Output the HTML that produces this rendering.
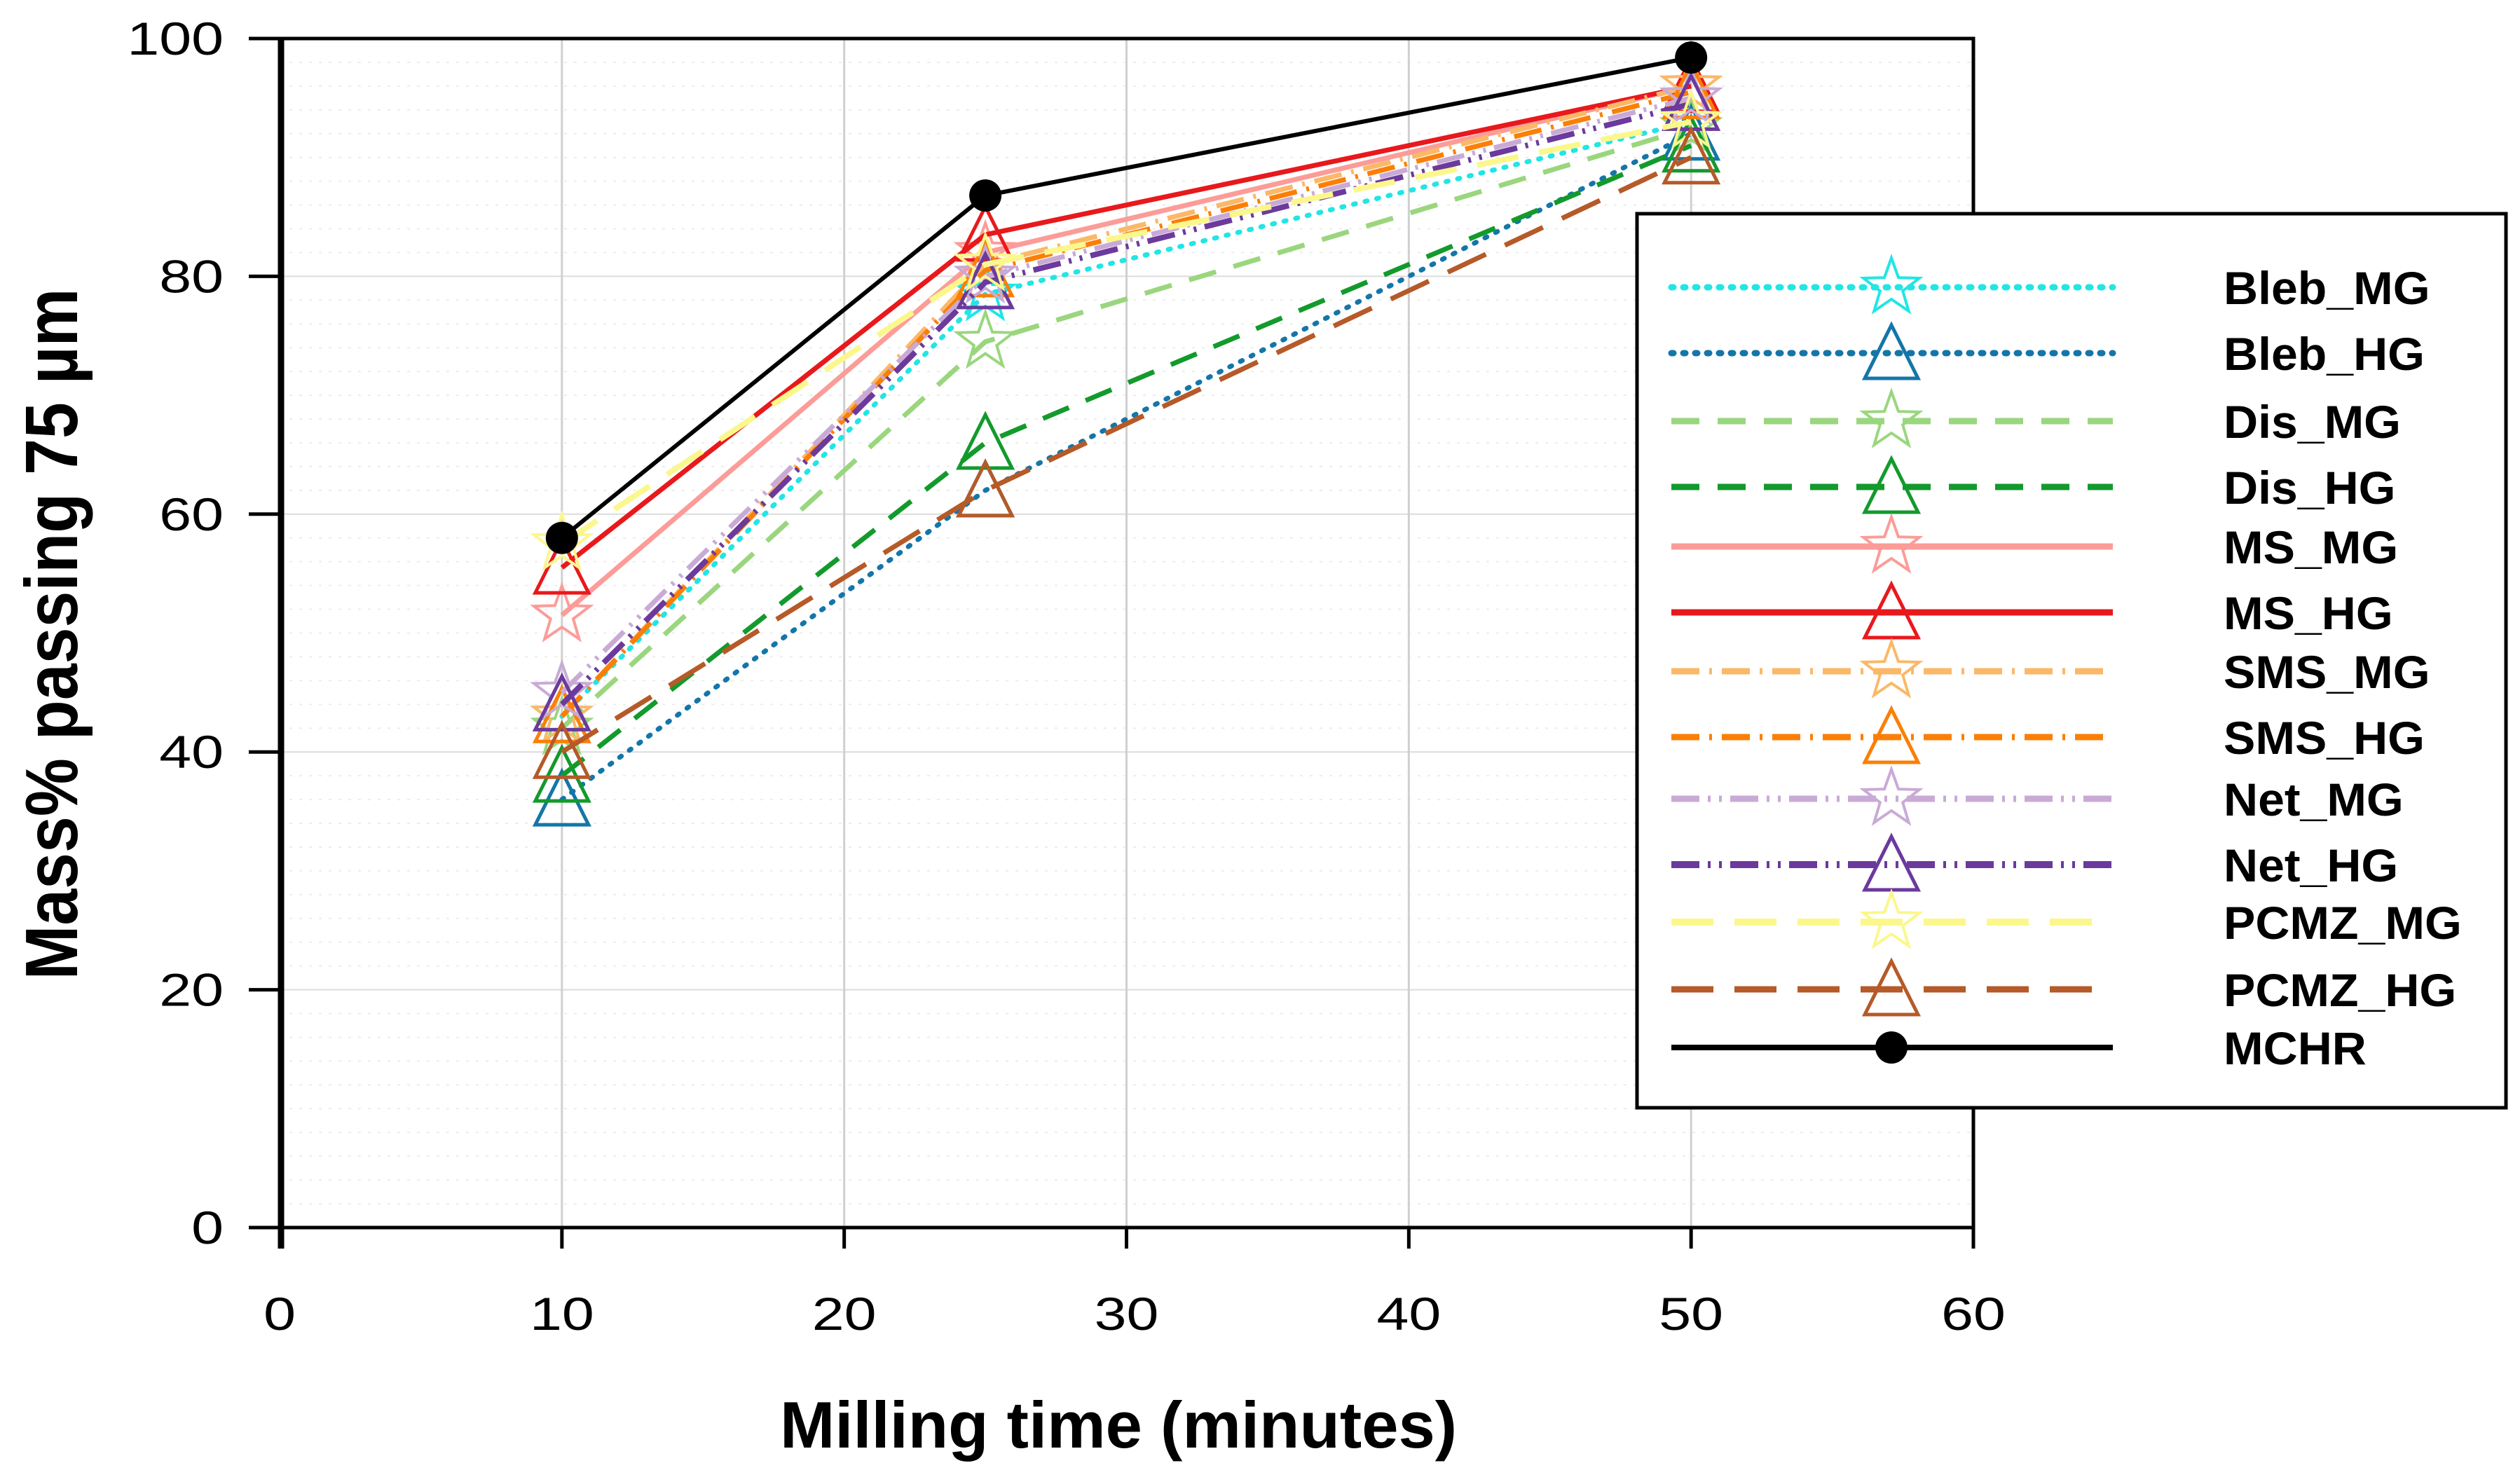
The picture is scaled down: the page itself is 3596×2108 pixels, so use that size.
<!DOCTYPE html>
<html><head><meta charset="utf-8"><style>
html,body{margin:0;padding:0;background:#fff;}
svg{display:block;}
text{font-family:"Liberation Sans",sans-serif;}
</style></head><body>
<svg id="chart" width="3596" height="2108" viewBox="0 0 3596 2108" xmlns="http://www.w3.org/2000/svg">
<g id="grid"></g>
<g id="series"></g>
<g id="axes"></g>
<g id="legend"></g>
</svg>
<script>
const xCats = [10, 25, 50];
const xTicks = [0, 10, 20, 30, 40, 50, 60];
const yTicks = [0, 20, 40, 60, 80, 100];
const seriesNames = ["Bleb_MG","Bleb_HG","Dis_MG","Dis_HG","MS_MG","MS_HG","SMS_MG","SMS_HG","Net_MG","Net_HG","PCMZ_MG","PCMZ_HG","MCHR"];
const blebMG = [43, 78.5, 93];
const blebHG = [36, 62, 92];
const disMG = [42, 74.5, 92.5];
const disHG = [38, 66, 91];
const msMG = [51.5, 82, 96];
const msHG = [55.5, 83.5, 96];
const smsMG = [43, 81, 96];
const smsHG = [43, 80.5, 95.5];
const netMG = [45, 80, 95];
const netHG = [44, 79.5, 94.5];
const pcmzMG = [57.5, 81, 93];
const pcmzHG = [40, 62, 90];
const mchr = [58, 86.8, 98.4];

const seriesVals = [blebMG,blebHG,disMG,disHG,msMG,msHG,smsMG,smsHG,netMG,netHG,pcmzMG,pcmzHG,mchr];
const styles = [
 {c:"#22e5e5",d:"3 14",w:7,m:"star"},
 {c:"#1476a8",d:"3 14",w:7,m:"tri"},
 {c:"#9ad67e",d:"40 26",w:7,m:"star"},
 {c:"#139a2c",d:"40 26",w:7,m:"tri"},
 {c:"#fc9c98",d:"",w:7,m:"star"},
 {c:"#e8191c",d:"",w:7,m:"tri"},
 {c:"#fbb868",d:"40 14 4 14",w:7,m:"star"},
 {c:"#fb7f06",d:"40 14 4 14",w:7,m:"tri"},
 {c:"#c9aad6",d:"40 12 4 12 4 12",w:7,m:"star"},
 {c:"#6b3a9c",d:"40 12 4 12 4 12",w:8,m:"tri"},
 {c:"#fbf78c",d:"60 30",w:8,m:"star"},
 {c:"#b55a28",d:"60 30",w:7,m:"tri"},
 {c:"#000",d:"",w:6,m:"dot"}
];
const legendRowY = [410,504,601,695,780,874,958,1052,1140,1234,1316,1412,1495];

const NS="http://www.w3.org/2000/svg";
const X0=399, X1=2816, Y0=1752, Y1=55;
function sx(v){return X0+(v-0)/(60-0)*(X1-X0);}
function sy(v){return Y0-(v-0)/(100-0)*(Y0-Y1);}
function mk(tag,attrs,parent){const e=document.createElementNS(NS,tag);for(const k in attrs)e.setAttribute(k,attrs[k]);parent.appendChild(e);return e;}

function marker(type,x,y,color,parent){
  let e;
  if(type==="tri"){
    e=mk("polygon",{points:`${x},${y-40} ${x-38},${y+36} ${x+38},${y+36}`,fill:"none",stroke:color,"stroke-width":5},parent);
  }else if(type==="star"){
    const pts=[];
    for(let i=0;i<10;i++){const r=i%2?17:42;const a=-Math.PI/2+i*Math.PI/5;pts.push((x+r*Math.cos(a)).toFixed(1)+","+(y+r*Math.sin(a)).toFixed(1));}
    e=mk("polygon",{points:pts.join(" "),fill:"none",stroke:color,"stroke-width":4},parent);
  }else{
    e=mk("circle",{cx:x,cy:y,r:23,fill:"#000"},parent);
  }
  return e;
}

const grid=document.getElementById("grid");
for(let v=2;v<100;v+=2){ if(v%20===0)continue;
  const l=mk("line",{x1:X0,x2:X1,y1:sy(v),y2:sy(v),stroke:"#ececec","stroke-width":2,"stroke-dasharray":"4 10"},grid);
  
  
}
yTicks.forEach(v=>{ if(v===0||v===100)return;
  const l=mk("line",{x1:X0,x2:X1,y1:sy(v),y2:sy(v),stroke:"#dcdcdc","stroke-width":2},grid);
  
  
});
xTicks.forEach(v=>{ if(v===0||v===60)return;
  const l=mk("line",{x1:sx(v),x2:sx(v),y1:Y1,y2:Y0,stroke:"#d0d0d0","stroke-width":3},grid);
  
  
});

const sg=document.getElementById("series");
seriesVals.forEach((vals,i)=>{
  const st=styles[i];
  const g=mk("g",{},sg);
  
  
  const p=mk("polyline",{points:vals.map((v,j)=>sx(xCats[j])+","+sy(v)).join(" "),fill:"none",stroke:st.c,"stroke-width":st.w,"stroke-dasharray":st.d,"stroke-linecap":st.d.startsWith("3 ")?"round":"butt"},g);
  
  
  vals.forEach((v,j)=>{
    const m=marker(st.m,sx(xCats[j]),sy(v),st.c,g);
    
    
  });
});

const ax=document.getElementById("axes");
const frame=mk("path",{d:`M${X0},${Y0} L${X0},${Y1} L${X1},${Y1} L${X1},${Y0} Z`,fill:"none",stroke:"#000","stroke-width":5},ax);


const yl=mk("line",{x1:X0+2,x2:X0+2,y1:Y1-2,y2:Y0+30,stroke:"#000","stroke-width":9},ax);


yTicks.forEach(v=>{
  const t=mk("line",{x1:X0-44,x2:X0,y1:sy(v),y2:sy(v),stroke:"#000","stroke-width":5},ax);
  
  
  const tx=mk("text",{x:0,y:0,"text-anchor":"end","font-size":66,transform:`translate(${X0-80},${sy(v)+23}) scale(1.25,1)`},ax);
  tx.textContent=v;
  
  
});
xTicks.forEach(v=>{
  const t=mk("line",{x1:sx(v),x2:sx(v),y1:Y0,y2:Y0+30,stroke:"#000","stroke-width":5},ax);
  
  
  const tx=mk("text",{x:0,y:0,"text-anchor":"middle","font-size":66,transform:`translate(${sx(v)},1898) scale(1.25,1)`},ax);
  tx.textContent=v;
  
  
});
const xt=mk("text",{x:1596,y:2066,"text-anchor":"middle","font-size":94,"font-weight":"bold"},ax);
xt.textContent="Milling time (minutes)";


const yt=mk("text",{x:0,y:0,"text-anchor":"middle","font-size":106,"font-weight":"bold",transform:"translate(110,905) rotate(-90) scale(0.88,1)"},ax);
yt.textContent="Mass% passing 75 µm";



const lg=document.getElementById("legend");
const box=mk("rect",{x:2336,y:305,width:1240,height:1276,fill:"#fff",stroke:"#000","stroke-width":5},lg);


seriesNames.forEach((n,i)=>{
  const st=styles[i]; const y=legendRowY[i];
  const g=mk("g",{},lg);
  
  
  mk("line",{x1:2385,x2:3015,y1:y,y2:y,stroke:st.c,"stroke-width":st.w+2,"stroke-dasharray":st.d,"stroke-linecap":st.d.startsWith("3 ")?"round":"butt"},g);
  marker(st.m,2699,y,st.c,g);
  const t=mk("text",{x:0,y:0,"font-size":66,"font-weight":"bold",transform:`translate(3173,${y+24}) scale(1.03,1)`},g);
  t.textContent=n;
  
  
});
</script>
</body></html>
